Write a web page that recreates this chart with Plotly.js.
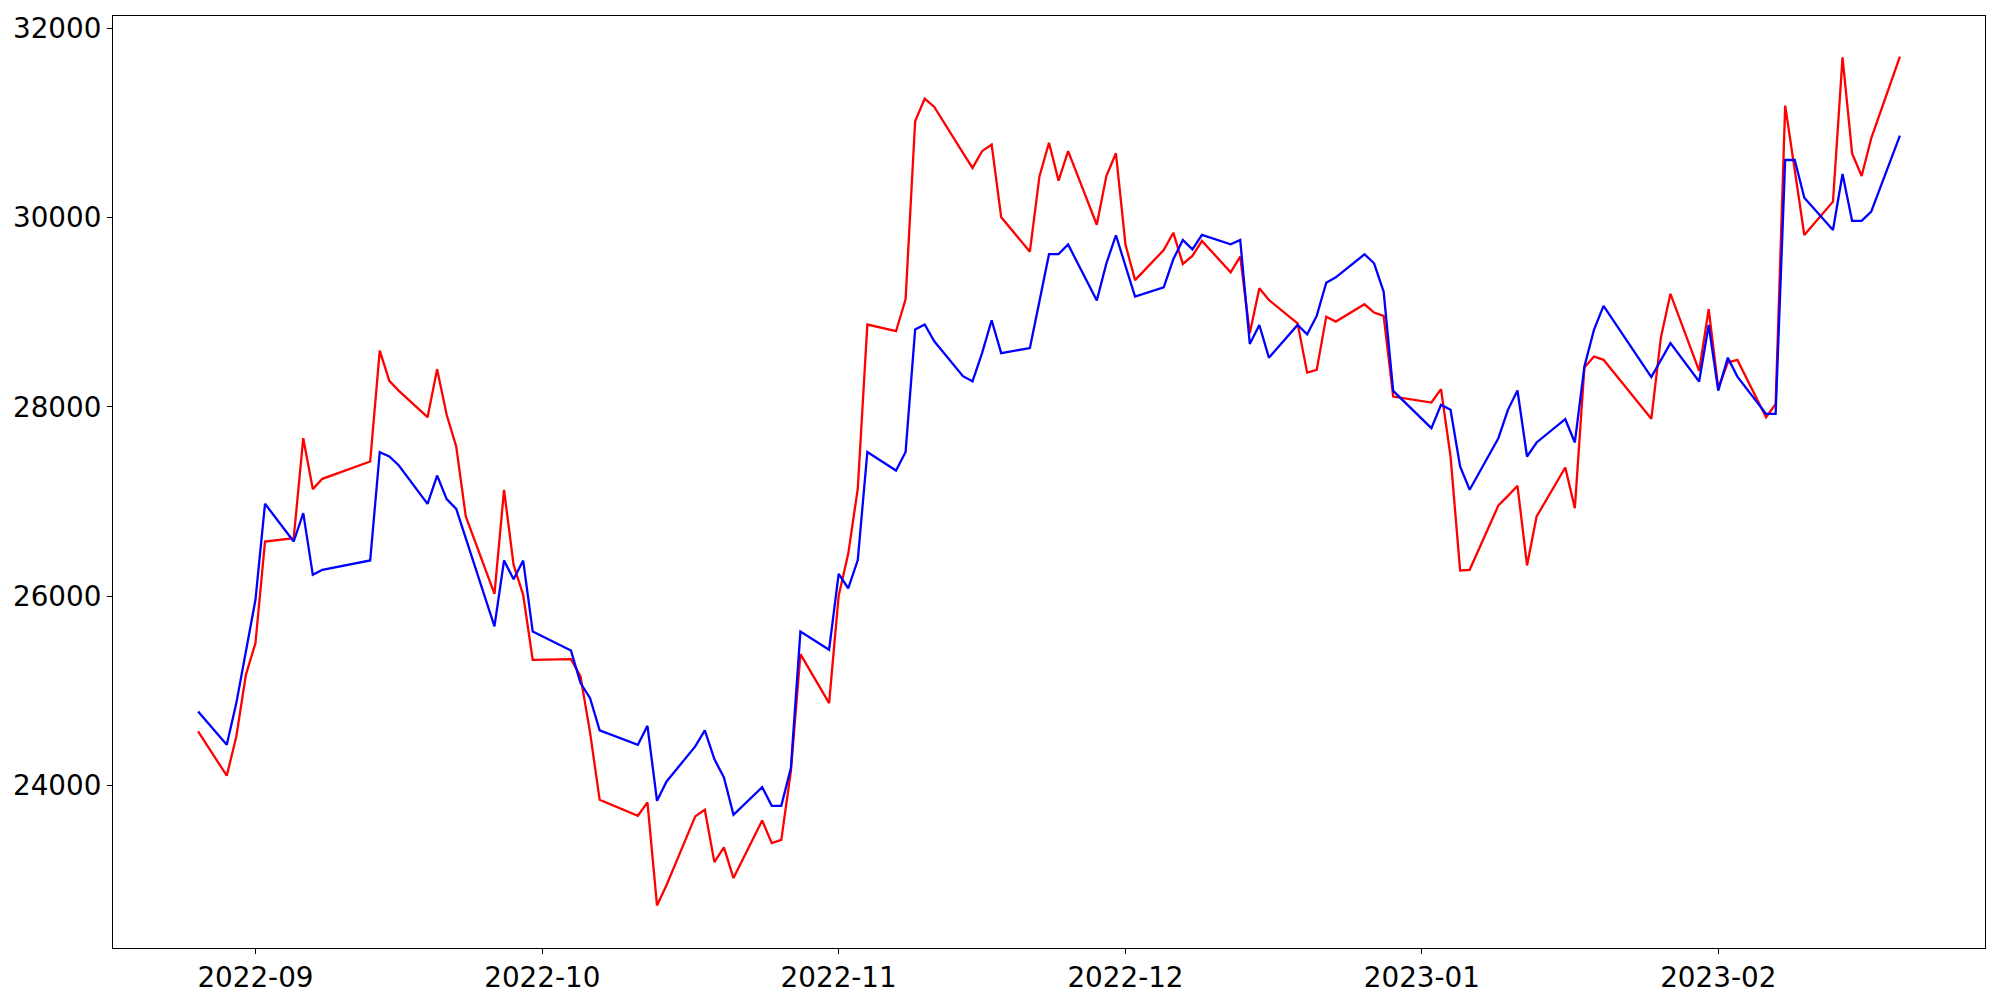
<!DOCTYPE html>
<html>
<head>
<meta charset="utf-8">
<script src="https://cdn.plot.ly/plotly-3.0.1.min.js"></script>
<style>html,body{margin:0;padding:0;background:#fff;}#chart{width:2000px;height:1000px;}</style>
</head>
<body>
<div id="chart"></div>
<script>
const dates = [
 "2022-08-26","2022-08-29","2022-08-30","2022-08-31",
 "2022-09-01","2022-09-02","2022-09-05","2022-09-06","2022-09-07","2022-09-08","2022-09-13","2022-09-14","2022-09-15","2022-09-16","2022-09-19","2022-09-20","2022-09-21","2022-09-22","2022-09-23","2022-09-26","2022-09-27","2022-09-28","2022-09-29","2022-09-30",
 "2022-10-04","2022-10-05","2022-10-06","2022-10-07","2022-10-11","2022-10-12","2022-10-13","2022-10-14","2022-10-17","2022-10-18","2022-10-19","2022-10-20","2022-10-21","2022-10-24","2022-10-25","2022-10-26","2022-10-27","2022-10-28","2022-10-31",
 "2022-11-01","2022-11-02","2022-11-03","2022-11-04","2022-11-07","2022-11-08","2022-11-09","2022-11-10","2022-11-11","2022-11-14","2022-11-15","2022-11-16","2022-11-17","2022-11-18","2022-11-21","2022-11-22","2022-11-23","2022-11-24","2022-11-25","2022-11-28","2022-11-29","2022-11-30",
 "2022-12-01","2022-12-02","2022-12-05","2022-12-06","2022-12-07","2022-12-08","2022-12-09","2022-12-12","2022-12-13","2022-12-14","2022-12-15","2022-12-16","2022-12-19","2022-12-20","2022-12-21","2022-12-22","2022-12-23","2022-12-26","2022-12-27","2022-12-28","2022-12-29",
 "2023-01-02","2023-01-03","2023-01-04","2023-01-05","2023-01-06","2023-01-09","2023-01-10","2023-01-11","2023-01-12","2023-01-13","2023-01-16","2023-01-17","2023-01-18","2023-01-19","2023-01-20","2023-01-25","2023-01-26","2023-01-27","2023-01-30","2023-01-31",
 "2023-02-01","2023-02-02","2023-02-03","2023-02-06","2023-02-07","2023-02-08","2023-02-09","2023-02-10","2023-02-13","2023-02-14","2023-02-15","2023-02-16","2023-02-17","2023-02-20"
];

const redValues = [
 24573,24105,24520,25171,
 25506,26579,26614,27670,27132,27241,27424,28596,28276,28170,27892,28399,27917,27582,26843,26025,27124,26332,26016,25329,
 25336,25153,24560,23851,23682,23823,22735,22950,23675,23745,23193,23347,23024,23633,23393,23428,24150,25389,24872,
 26005,26449,27138,28871,28800,29138,31018,31258,31169,30685,30525,30702,30773,30005,29640,30436,30791,30391,30702,29925,30440,30680,
 29716,29340,29658,29841,29511,29595,29754,29423,29588,28778,29254,29130,28884,28363,28391,28954,28902,29085,28997,28962,28110,
 28047,28188,27477,26273,26280,26959,27061,27167,26326,26843,27361,26931,28417,28533,28498,27875,28733,29195,28381,29033,
 28200,28470,28497,27891,28029,31183,30503,29817,30169,31693,30679,30440,30838,31700
];

const blueValues = [
 24784,24432,24872,25430,
 25963,26977,26579,26878,26227,26280,26379,27523,27477,27382,26977,27276,27026,26924,26610,25682,26378,26181,26378,25628,
 25428,25083,24924,24583,24432,24632,23840,24044,24414,24583,24280,24087,23692,23985,23787,23787,24185,25628,25436,
 26236,26085,26383,27525,27329,27525,28818,28871,28694,28325,28271,28569,28916,28569,28622,29116,29614,29614,29716,29125,29516,29814,
 29494,29166,29264,29560,29764,29665,29817,29718,29764,28666,28866,28521,28866,28768,28962,29313,29370,29613,29518,29219,28170,
 27776,28022,27970,27371,27125,27670,27970,28174,27477,27625,27871,27625,28427,28814,29068,28315,28498,28674,28269,28866,
 28173,28521,28321,27927,27927,30609,30609,30211,29870,30461,29965,29965,30063,30866
];

const xTickVals = ["2022-09-01","2022-10-01","2022-11-01","2022-12-01","2023-01-01","2023-02-01"];
const xTickText = ["2022-09","2022-10","2022-11","2022-12","2023-01","2023-02"];
const yTickVals = [24000,26000,28000,30000,32000];

const traces = [
  {x: dates, y: redValues, type: "scatter", mode: "lines", line: {color: "red", width: 2.3}, showlegend: false, hoverinfo: "skip"},
  {x: dates, y: blueValues, type: "scatter", mode: "lines", line: {color: "blue", width: 2.3}, showlegend: false, hoverinfo: "skip"}
];

const axisCommon = {
  showline: true, linecolor: "black", linewidth: 1, mirror: true,
  showgrid: false, zeroline: false,
  ticks: "outside", ticklen: 5, tickwidth: 1, tickcolor: "black",
  tickfont: {family: "DejaVu Sans", size: 27.8, color: "black"}
};

const layout = {
  width: 2000, height: 1000,
  margin: {l: 113, r: 15, t: 16, b: 52, pad: 0},
  paper_bgcolor: "white", plot_bgcolor: "white",
  font: {family: "DejaVu Sans", size: 27.8, color: "black"},
  xaxis: Object.assign({}, axisCommon, {
    type: "date",
    range: ["2022-08-17 02:24", "2023-02-28 21:36"],
    tickmode: "array", tickvals: xTickVals, ticktext: xTickText
  }),
  yaxis: Object.assign({}, axisCommon, {
    range: [22285, 32130],
    tickmode: "array", tickvals: yTickVals, ticktext: yTickVals.map(String)
  }),
  showlegend: false
};

Plotly.newPlot("chart", traces, layout, {staticPlot: true, displayModeBar: false});
</script>
</body>
</html>
